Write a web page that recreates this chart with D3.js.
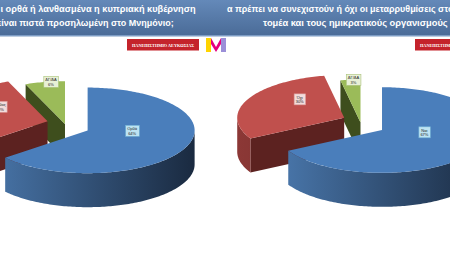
<!DOCTYPE html>
<html>
<head>
<meta charset="utf-8">
<script src="https://cdn.jsdelivr.net/npm/d3@7"></script>
<style>
  html, body { margin: 0; padding: 0; background: #fff; overflow: hidden; }
</style>
</head>
<body>
<div id="chart"></div>
<script>
// values
var leftCategories = ["Ορθά", "Λάθος", "ΔΓ/ΔΑ"];
var leftValues = [64, 30, 6];
var rightCategories = ["Ναι", "Όχι", "ΔΓ/ΔΑ"];
var rightValues = [67, 30, 3];

var leftTitle = ["ι ορθά ή λανθασμένα η κυπριακή κυβέρνηση", "είναι πιστά προσηλωμένη στο Μνημόνιο;"];
var rightTitle = ["α πρέπει να συνεχιστούν ή όχι οι μεταρρυθμίσεις", " στον ευρύτερο", "τομέα και τους ημικρατικούς οργανισμούς"];
var sourceLabel = "ΠΑΝΕΠΙΣΤΗΜΙΟ ΛΕΥΚΩΣΙΑΣ";

var W = 450, H = 253;
var RX = 107, K = 0.4, DEPTH = 34;     // ellipse radius, tilt, thickness
var KE = 0.6;                          // vertical factor for explosion
var explode = [25, 18, 0];
var labelR = [0.46, 0.46, 0.7];

var palette = [
  { top: "#4a7ebb", wallA: "#4a78ad", wallB: "#1a2a40", face: "#2c4870", box: "#bde3f2", stroke: "#6fb0d4" },
  { top: "#c0504d", wallA: "#8c3836", wallB: "#5a1f1e", face: "#5c2220", box: "#f2dcdb", stroke: "#d99694" },
  { top: "#9bbb59", wallA: "#6d8a32", wallB: "#3c4b1c", face: "#3e4e1d", box: "#e8f0d6", stroke: "#a9c27a" }
];

var svg = d3.select("#chart").append("svg")
    .attr("width", W)
    .attr("height", H);
var defs = svg.append("defs");

// header band
var hg = defs.append("linearGradient").attr("id", "hdr")
    .attr("x1", 0).attr("y1", 0).attr("x2", 0).attr("y2", 1);
hg.append("stop").attr("offset", 0).attr("stop-color", "#6489b9");
hg.append("stop").attr("offset", 1).attr("stop-color", "#4a6b97");
svg.append("rect").attr("x", 0).attr("y", 0).attr("width", W).attr("height", 36).attr("fill", "url(#hdr)");
svg.append("rect").attr("x", 0).attr("y", 35).attr("width", W).attr("height", 1.5).attr("fill", "#7d9cc4");

function title(x, y, parts, fitWidth) {
  var t = svg.append("text")
      .attr("x", x).attr("y", y)
      .attr("fill", "#fff")
      .attr("font-family", "Liberation Sans, Arial, sans-serif")
      .attr("font-weight", "bold")
      .attr("font-size", 10)
      .text(parts[0]);
  // size the font so the first part spans the width seen in the slide
  var w = t.node().getComputedTextLength();
  t.attr("font-size", 10 * fitWidth / w);
  if (parts[1]) t.append("tspan").text(parts[1]);
}
title(0.5, 12, [leftTitle[0]], 195.5);
title(-3, 25.5, [leftTitle[1]], 177);
title(227, 12, [rightTitle[0], rightTitle[1]], 209);
title(263, 25.5, [rightTitle[2]], 185);

// logos
function uniLogo(x) {
  svg.append("rect").attr("x", x).attr("y", 39).attr("width", 72).attr("height", 11.5)
      .attr("fill", "#c4232b");
  svg.append("text")
      .attr("x", x + 36).attr("y", 46.6)
      .attr("text-anchor", "middle")
      .attr("fill", "#fff")
      .attr("font-family", "Liberation Serif, serif")
      .attr("font-weight", "bold")
      .attr("font-size", 4.6)
      .attr("textLength", 62).attr("lengthAdjust", "spacingAndGlyphs")
      .text(sourceLabel);
}
uniLogo(127);
uniLogo(415);

var m = svg.append("g");
m.append("path").attr("d", "M206,52 L206,38 L211,38 L211,52 Z").attr("fill", "#ffd400");
m.append("path").attr("d", "M211,38 L216,47 L221,38 L221,44 L216,52 L211,44 Z").attr("fill", "#e5007d");
m.append("path").attr("d", "M221,38 L226,38 L226,52 L221,52 Z").attr("fill", "#9b8fd8");

function drawPie(values, cats, cx, cy, id) {
  var g = svg.append("g");
  var arcs = d3.pie().sort(null).value(function (d) { return d; })(values);

  function pt(a, r, ox, oy, dz) {
    return [cx + ox + r * Math.sin(a), cy + oy - r * Math.cos(a) * K + dz];
  }
  function rim(a0, a1, ox, oy, dz) {
    var n = Math.max(2, Math.ceil((a1 - a0) / 0.02));
    return d3.range(n + 1).map(function (i) { return pt(a0 + (a1 - a0) * i / n, RX, ox, oy, dz); });
  }
  var line = d3.line();

  // back slices first
  var order = arcs.map(function (d, i) { return i; })
      .sort(function (a, b) {
        var ma = (arcs[a].startAngle + arcs[a].endAngle) / 2;
        var mb = (arcs[b].startAngle + arcs[b].endAngle) / 2;
        return -Math.cos(ma) - -Math.cos(mb);
      });

  order.forEach(function (i) {
    var d = arcs[i], c = palette[i];
    var a0 = d.startAngle, a1 = d.endAngle, mid = (a0 + a1) / 2;
    var ox = explode[i] * Math.sin(mid), oy = -explode[i] * Math.cos(mid) * KE;

    var gid = "wall-" + id + "-" + i;
    var lg = defs.append("linearGradient").attr("id", gid)
        .attr("gradientUnits", "userSpaceOnUse")
        .attr("x1", cx + ox - RX).attr("y1", 0).attr("x2", cx + ox + RX).attr("y2", 0);
    lg.append("stop").attr("offset", 0).attr("stop-color", c.wallA);
    lg.append("stop").attr("offset", 1).attr("stop-color", c.wallB);

    // cut faces
    if (Math.sin(a0) < -1e-6) {
      g.append("path").attr("fill", c.face)
          .attr("d", line([pt(a0, 0, ox, oy, 0), pt(a0, RX, ox, oy, 0), pt(a0, RX, ox, oy, DEPTH), pt(a0, 0, ox, oy, DEPTH)]) + "Z");
    }
    if (Math.sin(a1) > 1e-6) {
      g.append("path").attr("fill", c.face)
          .attr("d", line([pt(a1, 0, ox, oy, 0), pt(a1, RX, ox, oy, 0), pt(a1, RX, ox, oy, DEPTH), pt(a1, 0, ox, oy, DEPTH)]) + "Z");
    }
    // outer wall, front half only
    var w0 = Math.max(a0, Math.PI / 2), w1 = Math.min(a1, 3 * Math.PI / 2);
    if (w1 > w0) {
      var wall = rim(w0, w1, ox, oy, 0).concat(rim(w0, w1, ox, oy, DEPTH).reverse());
      g.append("path").attr("fill", "url(#" + gid + ")").attr("d", line(wall) + "Z");
    }
    // top
    var top = [pt(0, 0, ox, oy, 0)].concat(rim(a0, a1, ox, oy, 0));
    g.append("path").attr("fill", c.top).attr("d", line(top) + "Z");
  });

  // data labels
  arcs.forEach(function (d, i) {
    var c = palette[i];
    var mid = (d.startAngle + d.endAngle) / 2;
    var ox = explode[i] * Math.sin(mid), oy = -explode[i] * Math.cos(mid) * KE;
    var r = RX * labelR[i];
    var lx = cx + ox + r * Math.sin(mid);
    var ly = cy + oy - r * Math.cos(mid) * 0.45 - 9;
    var lab = g.append("g");
    var box = lab.append("rect").attr("fill", c.box).attr("stroke", c.stroke).attr("stroke-width", 0.6);
    var tx = lab.append("text")
        .attr("text-anchor", "middle")
        .attr("font-family", "Liberation Sans, Arial, sans-serif")
        .attr("font-size", 4)
        .attr("fill", "#222");
    tx.append("tspan").attr("x", lx).attr("y", ly - 0.8).text(cats[i]);
    tx.append("tspan").attr("x", lx).attr("y", ly + 3.8).text(d.data + "%");
    var bb = tx.node().getBBox();
    box.attr("x", bb.x - 1.5).attr("y", ly - 5.5).attr("width", bb.width + 3).attr("height", 11);
  });
}

drawPie(leftValues, leftCategories, 65, 124, "l");
drawPie(rightValues, rightCategories, 360.5, 122.4, "r");
</script>
</body>
</html>
